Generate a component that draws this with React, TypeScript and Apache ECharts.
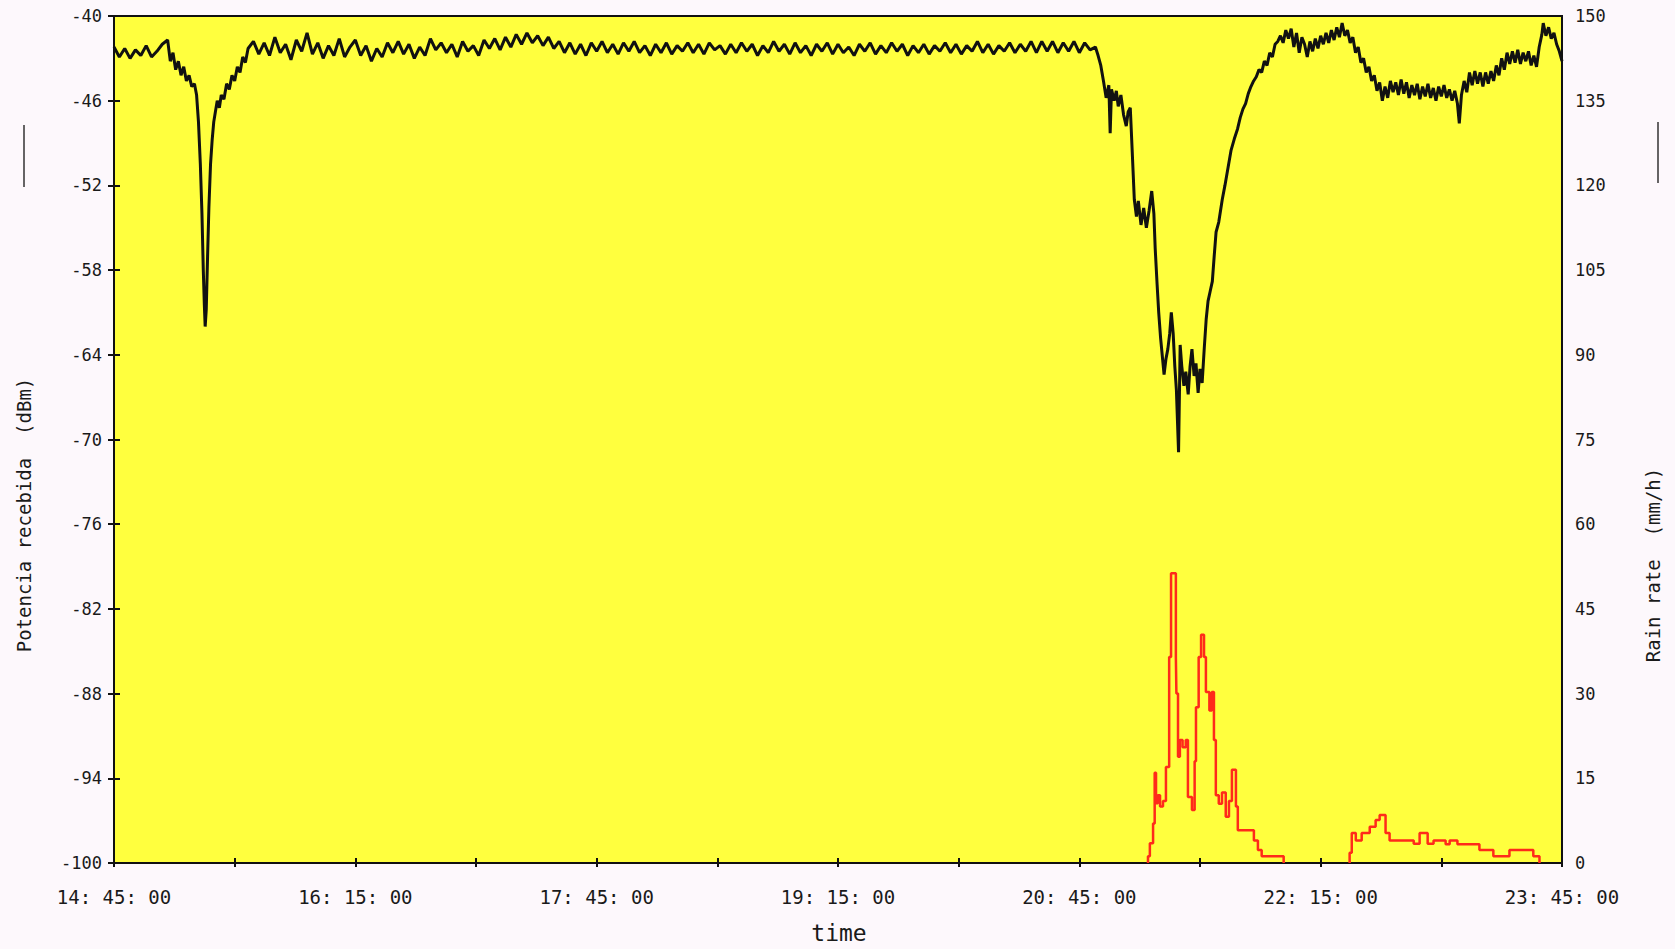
import React, { useEffect, useRef } from "react";
import * as echarts from "echarts";

// Time axis: minutes after 14:45:00
const START_MINUTES = 14 * 60 + 45;
const X_MAX = 540;
const LEFT_TICKS = { min: -100, max: -40, interval: 6 };
const RIGHT_TICKS = { min: 0, max: 150, interval: 15 };

const leftTitle = "Potencia recebida  (dBm)";
const rightTitle = "Rain rate  (mm/h)";
const xTitle = "time";

// Received power (dBm), [minute, value]
const powerFirstDip: [number, number][] = [
  [0, -42.2], [2, -42.9], [4, -42.3], [6, -43.0], [8, -42.4], [10, -42.8], [12, -42.1], [14, -42.9], [16, -42.5], [18, -42.0],
  [20, -41.7], [21, -43.2], [22, -42.6], [23, -43.8], [24, -43.2], [25, -44.2], [26, -43.6], [27, -44.6], [28, -44.2], [29, -45.0],
  [30, -44.8], [30.8, -45.6], [31.5, -47.5], [32.2, -50.5], [32.8, -54.0], [33.3, -58.0], [33.7, -60.5], [34, -62.0], [34.4, -60.8],
  [34.9, -57.0], [35.4, -53.5], [36, -50.5], [36.6, -48.8], [37.2, -47.5], [37.8, -46.8], [38.5, -46.0], [39.3, -46.5], [40, -45.6],
  [41, -45.9], [42, -44.8], [43, -45.2], [44, -44.2], [45, -44.6], [46, -43.6], [47, -44.0], [48, -42.9], [49, -43.3], [50, -42.3],
];

const powerFlat: [number, number][] = [
  [52, -41.8], [54, -42.7], [56, -41.9], [58, -42.8], [60, -41.5], [62, -42.6], [64, -42.0], [66, -43.1], [68, -41.7], [70, -42.5],
  [72, -41.2], [74, -42.7], [76, -41.9], [78, -43.0], [80, -42.1], [82, -42.8], [84, -41.6], [86, -42.9], [88, -42.2], [90, -41.7],
  [92, -42.8], [94, -42.1], [96, -43.2], [98, -42.3], [100, -42.9], [102, -41.9], [104, -42.6], [106, -41.8], [108, -42.7], [110, -42.0],
  [112, -43.0], [114, -42.2], [116, -42.8], [118, -41.6], [120, -42.4], [122, -41.9], [124, -42.6], [126, -42.0], [128, -42.9], [130, -41.8],
  [132, -42.5], [134, -42.1], [136, -42.8], [138, -41.7], [140, -42.3], [142, -41.6], [144, -42.4], [146, -41.5], [148, -42.2], [150, -41.3],
  [152, -42.0], [154, -41.2], [156, -41.9], [158, -41.4], [160, -42.1], [162, -41.5], [164, -42.3], [166, -41.8], [168, -42.6], [170, -41.9],
  [172, -42.7], [174, -42.0], [176, -42.8], [178, -41.9], [180, -42.5], [182, -41.8], [184, -42.6], [186, -42.0], [188, -42.7], [190, -41.9],
  [192, -42.5], [194, -41.8], [196, -42.6], [198, -42.1], [200, -42.8], [202, -42.0], [204, -42.6], [206, -41.9], [208, -42.7], [210, -42.1],
  [212, -42.5], [214, -41.9], [216, -42.6], [218, -42.0], [220, -42.7], [222, -41.9], [224, -42.4], [226, -42.1], [228, -42.7], [230, -42.0],
  [232, -42.6], [234, -41.9], [236, -42.5], [238, -42.0], [240, -42.8], [242, -42.1], [244, -42.6], [246, -41.8], [248, -42.5], [250, -42.0],
  [252, -42.7], [254, -41.9], [256, -42.6], [258, -42.1], [260, -42.8], [262, -42.0], [264, -42.5], [266, -41.9], [268, -42.7], [270, -42.0],
  [272, -42.6], [274, -42.2], [276, -42.8], [278, -42.0], [280, -42.5], [282, -41.9], [284, -42.7], [286, -42.1], [288, -42.6], [290, -41.9],
  [292, -42.5], [294, -42.0], [296, -42.8], [298, -42.1], [300, -42.6], [302, -42.0], [304, -42.7], [306, -42.1], [308, -42.5], [310, -41.9],
  [312, -42.6], [314, -42.0], [316, -42.7], [318, -42.1], [320, -42.5], [322, -41.8], [324, -42.6], [326, -42.0], [328, -42.7], [330, -42.1],
  [332, -42.5], [334, -41.9], [336, -42.6], [338, -42.0], [340, -42.5], [342, -41.8], [344, -42.6], [346, -41.8], [348, -42.5], [350, -41.8],
  [352, -42.6], [354, -41.9], [356, -42.5], [358, -41.8], [360, -42.6], [362, -41.9], [364, -42.4], [366, -42.2],
];

const powerSecondDip: [number, number][] = [
  [367, -42.8], [368, -43.5], [369, -44.6], [370, -45.8], [371, -44.9], [371.5, -48.3], [372, -45.2], [373, -46.0], [373.8, -45.3],
  [374.5, -46.4], [375.5, -45.6], [376.5, -47.0], [377.5, -47.8], [378.2, -46.8], [379, -46.5], [379.7, -49.5], [380.5, -53.0],
  [381.3, -54.2], [382, -53.1], [383, -54.8], [384, -53.6], [385, -55.0], [386, -53.8], [387, -52.4], [387.8, -54.0], [388.3, -56.5],
  [389, -59.0], [389.6, -61.0], [390.3, -62.8], [391, -64.2], [391.6, -65.4], [392.3, -64.3], [393, -63.6], [393.7, -62.5], [394.3, -61.0],
  [395, -62.5], [395.6, -64.8], [396.2, -66.5], [397, -70.9], [397.6, -63.3], [398.2, -64.8], [399, -66.2], [399.7, -65.2], [400.6, -66.8],
  [401.3, -64.8], [402, -63.6], [402.8, -65.5], [403.5, -64.6], [404.3, -66.7], [405, -65.0], [405.8, -66.0], [406.6, -63.5], [407.3, -61.5],
  [408, -60.2], [408.8, -59.5], [409.6, -58.8], [410.3, -57.0], [411, -55.3], [412, -54.6], [413.3, -53.0], [414.3, -52.0], [415.5, -50.7],
  [416.6, -49.5], [417.8, -48.7], [419, -48.0], [420, -47.2], [421, -46.6], [422, -46.2], [423, -45.5], [424, -45.0], [425, -44.6],
  [426, -44.3], [427, -43.8], [428, -44.0], [429, -43.2], [430, -43.5], [431, -42.6], [432, -42.9], [433, -42.0], [434, -41.8], [435, -41.4],
  [436, -41.9], [437, -41.0], [438, -41.6], [439, -40.9], [440, -42.2], [441, -41.2], [442, -42.6], [443, -41.5], [444, -42.0], [445, -42.9],
  [446, -41.8], [447, -42.5], [448, -41.6], [449, -42.3], [450, -41.4], [451, -42.0], [452, -41.2], [453, -41.9], [454, -41.0], [455, -41.7],
  [456, -40.8], [457, -41.5], [458, -40.5], [459, -41.4], [460, -41.0], [461, -41.9], [462, -41.5], [463, -42.6], [464, -42.2], [465, -43.3],
  [466, -43.0], [467, -44.0], [468, -43.6], [469, -44.6], [470, -44.2], [471, -45.3], [472, -44.7], [473, -46.0], [474, -45.0], [475, -45.8],
  [476, -44.6], [477, -45.4], [478, -44.7], [479, -45.6], [480, -44.5], [481, -45.5], [482, -44.7], [483, -45.8], [484, -44.9], [485, -45.6],
  [486, -44.8], [487, -45.9], [488, -45.0], [489, -45.7], [490, -44.8], [491, -45.8], [492, -45.1], [493, -46.0], [494, -45.0], [495, -45.7],
  [496, -44.9], [497, -45.8], [498, -45.2], [499, -46.0], [500, -45.3], [501, -46.2], [501.7, -47.6], [502.5, -45.6], [503.5, -44.6],
  [504.5, -45.4], [505.5, -44.0], [506.5, -44.9], [507.5, -43.9], [508.5, -44.8], [509.5, -44.0], [510.5, -45.0], [511.5, -44.0],
  [512.5, -44.8], [513.5, -43.9], [514.5, -44.6], [515.5, -43.5], [516.5, -44.2], [517.5, -43.0], [518.5, -43.8], [519.5, -42.6],
  [520.5, -43.4], [521.5, -42.5], [522.5, -43.3], [523.5, -42.4], [524.5, -43.4], [525.5, -42.6], [526.5, -43.2], [527.5, -42.5],
  [528.5, -43.5], [529.5, -42.8], [530.5, -43.6], [531.5, -42.2], [532.5, -41.3], [533, -40.5], [534, -41.4], [535, -40.8], [536, -41.6],
  [537, -41.2], [538, -42.0], [539, -42.5], [540, -43.2],
];

// Rain rate (mm/h), [minute, value] as a step line; null marks a gap with no rain trace
const rainFirstEvent: [number, number | null][] = [
  [385.6, 0], [385.6, 1.2], [386.3, 3.5], [387.5, 7], [388.1, 16], [388.6, 10.6], [389.3, 12], [390.1, 10], [391.2, 11], [392.3, 17],
  [393.5, 36.5], [394.2, 51.3], [396.0, 36.5], [396.2, 30], [396.8, 18.8], [397.5, 21.8], [398.5, 20.5], [399.7, 21.8], [400.5, 11.7],
  [402.0, 9.4], [403.0, 18], [403.5, 27.6], [404.5, 36.5], [405.4, 40.4], [406.5, 36.5], [407.2, 30.3], [408.5, 27], [409.4, 30.3],
  [410.2, 21.8], [410.9, 12], [412, 10.5], [413.2, 12.5], [414.6, 8.2], [415.8, 11], [416.9, 16.5], [418.4, 10], [419.1, 5.8],
  [425.1, 4], [426.6, 2.3], [428, 1.2], [436.2, 0],
];
const rainGap: [number, number | null][] = [[436.3, null]];
const rainSecondEvent: [number, number | null][] = [
  [460.8, 0], [460.8, 1.8], [461.6, 5.3], [463.1, 4], [465.3, 5.3], [468.3, 6.4], [470.5, 7.6],
  [472.0, 8.5], [474.2, 5.3], [475.7, 4], [484.7, 3.4], [486.9, 5.3], [489.9, 3.4], [492.1, 4], [496.6, 3.3], [498.1, 4], [501.0, 3.3],
  [509.2, 2.3], [514.4, 1.2], [520.4, 2.3], [529.3, 1.2], [531.6, 0],
];

const FONT = "'DejaVu Sans Mono', 'Liberation Mono', monospace";

function timeLabel(v: number): string {
  if (Math.round(v) % 90 !== 0) return "";
  const total = START_MINUTES + Math.round(v);
  const h = Math.floor(total / 60);
  const m = total % 60;
  return `${h}: ${String(m).padStart(2, "0")}: 00`;
}

export default function App() {
  const ref = useRef<HTMLDivElement>(null);

  useEffect(() => {
    if (!ref.current) return;
    const chart = echarts.init(ref.current, undefined, { renderer: "svg" });
    const powerData = [...powerFirstDip, ...powerFlat, ...powerSecondDip];
    const rainData = [...rainFirstEvent, ...rainGap, ...rainSecondEvent];
    const textColor = "#1a1a1a";

    chart.setOption({
      animation: false,
      backgroundColor: "#fdf8fc",
      grid: {
        left: 114,
        right: 113,
        top: 16,
        bottom: 86,
        show: true,
        backgroundColor: "#ffff3e",
        borderColor: "#111",
        borderWidth: 2,
      },
      xAxis: [
        {
          type: "value",
          min: 0,
          max: X_MAX,
          interval: 45,
          position: "bottom",
          axisLine: { lineStyle: { color: "#111", width: 2 } },
          axisTick: { inside: true, length: 5, lineStyle: { color: "#111", width: 2 } },
          axisLabel: {
            formatter: timeLabel,
            margin: 24,
            fontFamily: FONT,
            fontSize: 19,
            color: textColor,
            showMinLabel: true,
            showMaxLabel: true,
          },
          splitLine: { show: false },
        },
        {
          type: "value",
          min: 0,
          max: X_MAX,
          interval: 45,
          position: "bottom",
          axisLine: { show: false },
          axisTick: { inside: false, length: 4, lineStyle: { color: "#111", width: 2 } },
          axisLabel: { show: false },
          splitLine: { show: false },
        },
      ],
      yAxis: [
        {
          type: "value",
          position: "left",
          min: LEFT_TICKS.min,
          max: LEFT_TICKS.max,
          interval: LEFT_TICKS.interval,
          axisLine: { show: true, lineStyle: { color: "#111", width: 2 } },
          axisTick: { show: true, inside: true, length: 6, lineStyle: { color: "#111", width: 2 } },
          axisLabel: { margin: 12, fontFamily: FONT, fontSize: 17, color: textColor },
          splitLine: { show: false },
        },
        {
          type: "value",
          position: "right",
          min: RIGHT_TICKS.min,
          max: RIGHT_TICKS.max,
          interval: RIGHT_TICKS.interval,
          axisLine: { show: true, lineStyle: { color: "#111", width: 2 } },
          axisTick: { show: true, inside: true, length: 6, lineStyle: { color: "#111", width: 2 } },
          axisLabel: { margin: 13, fontFamily: FONT, fontSize: 17, color: textColor },
          splitLine: { show: false },
        },
      ],
      series: [
        {
          name: "Potencia recebida",
          type: "line",
          xAxisIndex: 0,
          yAxisIndex: 0,
          data: powerData,
          showSymbol: false,
          symbol: "none",
          lineStyle: { color: "#111", width: 3 },
          z: 3,
        },
        {
          name: "Rain rate",
          type: "line",
          xAxisIndex: 0,
          yAxisIndex: 1,
          data: rainData,
          step: "end",
          connectNulls: false,
          showSymbol: false,
          symbol: "none",
          lineStyle: { color: "#ff2a1a", width: 2.5 },
          z: 4,
        },
      ],
      graphic: [
        {
          type: "text",
          x: 24,
          y: 515,
          rotation: Math.PI / 2,
          style: {
            text: leftTitle,
            font: `19px ${FONT}`,
            fill: textColor,
            textAlign: "center",
            textVerticalAlign: "middle",
            align: "center",
            verticalAlign: "middle",
          },
        },
        {
          type: "text",
          x: 1653,
          y: 565,
          rotation: Math.PI / 2,
          style: {
            text: rightTitle,
            font: `19px ${FONT}`,
            fill: textColor,
            textAlign: "center",
            textVerticalAlign: "middle",
            align: "center",
            verticalAlign: "middle",
          },
        },
        {
          type: "text",
          x: 839,
          y: 933,
          style: {
            text: xTitle,
            font: `23px ${FONT}`,
            fill: textColor,
            textAlign: "center",
            textVerticalAlign: "middle",
            align: "center",
            verticalAlign: "middle",
          },
        },
        {
          type: "line",
          shape: { x1: 24, y1: 125, x2: 24, y2: 187 },
          style: { stroke: "#333", lineWidth: 1.5 },
        },
        {
          type: "line",
          shape: { x1: 1658, y1: 122, x2: 1658, y2: 183 },
          style: { stroke: "#333", lineWidth: 1.5 },
        },
      ],
    });

    return () => {
      chart.dispose();
    };
  }, []);

  return (
    <div
      ref={ref}
      style={{ position: "absolute", left: 0, top: 0, width: 1675, height: 949 }}
    />
  );
}
